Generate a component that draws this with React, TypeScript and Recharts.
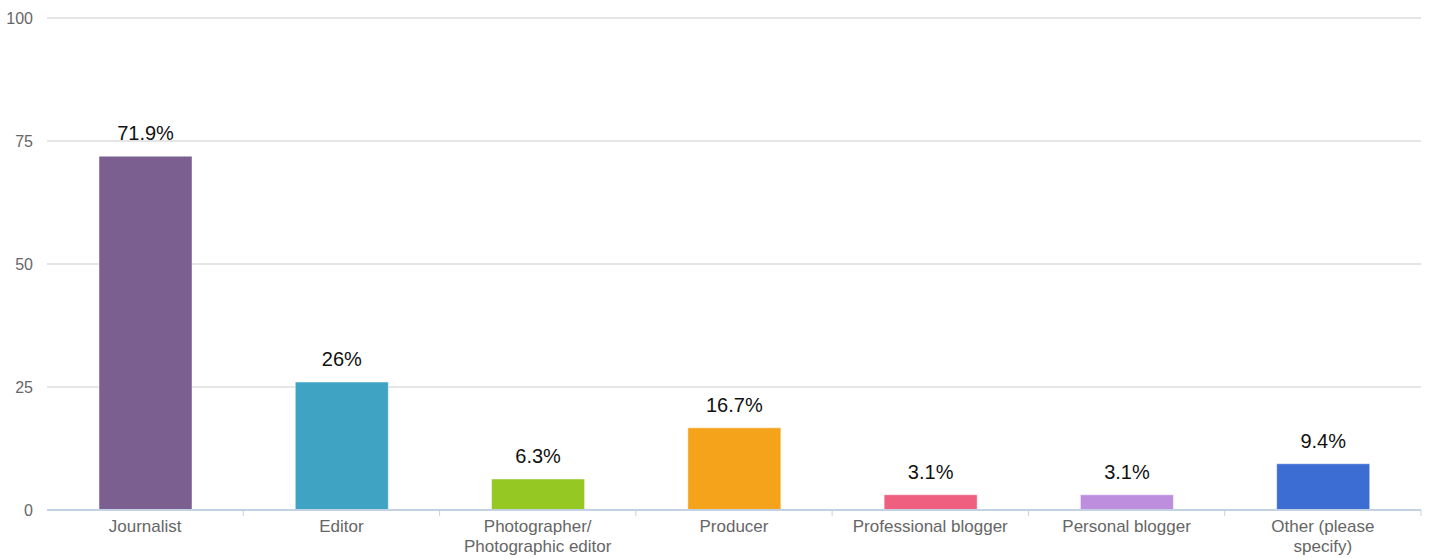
import React from "react";
import { BarChart, Bar, XAxis, YAxis, CartesianGrid, Cell, LabelList } from "recharts";

const categories = [
  "Journalist",
  "Editor",
  "Photographer/\nPhotographic editor",
  "Producer",
  "Professional blogger",
  "Personal blogger",
  "Other (please\nspecify)",
];
const values = [71.9, 26, 6.3, 16.7, 3.1, 3.1, 9.4];
const colors = ["#7b5f91", "#3fa4c4", "#95c823", "#f5a31a", "#ee5f80", "#bd8edd", "#3c6dd3"];
const yTicks = [0, 25, 50, 75, 100];

const data = categories.map((c, i) => ({ name: c, value: values[i] }));

const W = 1430;
const H = 558;
const M = { top: 18, right: 9, left: 0, bottom: 0 };
const Y_W = 47;
const X_H = 48;
const FONT = "'Liberation Sans', Arial, Helvetica, sans-serif";

const CatTick = (props: any) => {
  const { x, y, payload } = props;
  const band = (W - M.left - M.right - Y_W) / categories.length;
  const lines = String(payload.value).split("\n");
  return (
    <g>
      <line x1={x + band / 2} x2={x + band / 2} y1={y - 8} y2={y - 2} stroke="#c3d2e2" strokeWidth={1} />
      <text x={x} y={y + 14} textAnchor="middle" fill="#666" fontSize={17} fontFamily={FONT}>
        {lines.map((l, i) => (
          <tspan key={i} x={x} dy={i === 0 ? 0 : 20}>
            {l}
          </tspan>
        ))}
      </text>
    </g>
  );
};

export default function App() {
  return (
    <div style={{ position: "absolute", left: 0, top: 0, width: W, height: H, background: "#fff" }}>
      <BarChart width={W} height={H} data={data} margin={M} barSize={93}>
        <CartesianGrid vertical={false} stroke="#cbcbcb" />
        <XAxis
          dataKey="name"
          interval={0}
          height={X_H}
          axisLine={{ stroke: "#c3d2e2", strokeWidth: 2 }}
          tickLine={false}
          tick={<CatTick />}
          tickSize={0}
          tickMargin={8}
        />
        <YAxis
          width={Y_W}
          domain={[0, 100]}
          ticks={yTicks}
          axisLine={false}
          tickLine={false}
          tickSize={0}
          tickMargin={14}
          tick={{ fill: "#666", fontSize: 16, fontFamily: FONT }}
        />
        <Bar dataKey="value" isAnimationActive={false} stroke="#ffffff" strokeOpacity={0.45} strokeWidth={1}>
          {data.map((d, i) => (
            <Cell key={i} fill={colors[i]} />
          ))}
          <LabelList
            dataKey="value"
            position="top"
            offset={16}
            formatter={(v: any) => `${v}%`}
            fill="#111"
            fontSize={20}
            fontFamily={FONT}
          />
        </Bar>
      </BarChart>
    </div>
  );
}
